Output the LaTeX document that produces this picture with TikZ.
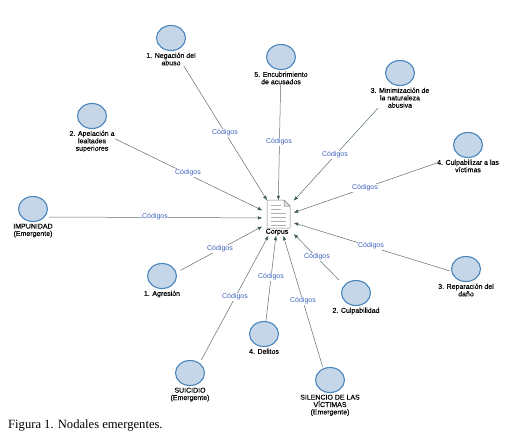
\documentclass[tikz,border=0pt]{standalone}
\usepackage{fontspec}
\setmainfont[FakeBold=0.15]{Liberation Sans}
\newfontfamily\capfont{Liberation Serif}
\newfontfamily\codfont{Liberation Sans}
\usepackage{xcolor}
\usetikzlibrary{arrows.meta,positioning,fit,shapes.geometric}
\definecolor{nodefill}{HTML}{C5D6E8}
\definecolor{nodeline}{HTML}{4A85BC}
\definecolor{linkline}{HTML}{5C6F6C}
\definecolor{linktip}{HTML}{3F5C58}
\definecolor{codblue}{HTML}{3F62BE}

\begin{document}
\begin{tikzpicture}[
  x=1pt, y=-1pt,
  nodal/.style={draw=nodeline, fill=nodefill, ellipse, line width=1.1pt, minimum width=29pt, minimum height=25pt, inner sep=0pt},
  lbl/.style={align=center, inner sep=0pt, font=\fontsize{7}{7.4}\selectfont},
  group/.style={inner sep=0pt},
  hub/.style={minimum width=31pt, minimum height=35pt, inner sep=0pt},
  cod/.style={fill=white, inner sep=0.6pt, text=codblue, font=\codfont\fontsize{7}{8}\selectfont},
  arr/.style={-{Latex[length=4.5pt,width=3.6pt,color=linktip]}, line width=0.5pt, draw=linkline},
  doc/.style={draw=black!50, fill=white, line width=0.5pt, line join=round}
]
\useasboundingbox (0,0) rectangle (517,447);

% nodales
\node[nodal] (neg) at (171,38) {};
\node[lbl,below=1.5pt of neg] (negl) {1. Negación del\\abuso};
\node[group,fit=(neg)(negl)] (negb) {};
\node[nodal] (apel) at (92,116) {};
\node[lbl,below=1.5pt of apel] (apell) {2. Apelación a\\lealtades\\superiores};
\node[group,fit=(apel)(apell)] (apelb) {};
\node[nodal] (imp) at (33,209) {};
\node[lbl,below=1.5pt of imp] (impl) {IMPUNIDAD\\(Emergente)};
\coordinate (imps) at (49,217);
\node[nodal] (enc) at (281,57) {};
\node[lbl,below=1.5pt of enc] (encl) {5. Encubrimiento\\de acusados};
\node[group,fit=(enc)(encl)] (encb) {};
\node[nodal] (mini) at (400,73) {};
\node[lbl,below=1.5pt of mini] (minil) {3. Minimización de\\la naturaleza\\abusiva};
\node[group,fit=(mini)(minil)] (minib) {};
\node[nodal] (culz) at (468,145) {};
\node[lbl,below=1.5pt of culz] (culzl) {4. Culpabilizar a las\\víctimas};
\node[group,fit=(culz)(culzl)] (culzb) {};
\node[nodal] (rep) at (466,269) {};
\node[lbl,below=1.5pt of rep] (repl) {3. Reparación del\\daño};
\coordinate (reps) at (450,271);
\node[nodal] (culp) at (356,293) {};
\node[lbl,below=1.5pt of culp] (culpl) {2. Culpabilidad};
\node[group,fit=(culp)(culpl)] (culpb) {};
\node[nodal] (sil) at (330,380) {};
\node[lbl,below=1.5pt of sil] (sill) {SILENCIO DE LAS\\VÍCTIMAS\\(Emergente)};
\node[group,fit=(sil)(sill)] (silb) {};
\node[nodal] (del) at (264,334) {};
\node[lbl,below=1.5pt of del] (dell) {4. Delitos};
\node[group,fit=(del)(dell)] (delb) {};
\node[nodal] (sui) at (190,373) {};
\node[lbl,below=1.5pt of sui] (suil) {SUICIDIO\\(Emergente)};
\node[group,fit=(sui)(suil)] (suib) {};
\node[nodal] (agr) at (162,276) {};
\node[lbl,below=1.5pt of agr] (agrl) {1. Agresión};
\node[group,fit=(agr)(agrl)] (agrb) {};

% corpus
\node[hub] (corpus) at (278,218) {};
\begin{scope}[shift={(corpus)}]
\draw[doc] (-11,-18) -- (6,-18) -- (12,-12) -- (12,10) -- (-11,10) -- cycle;
\draw[doc,fill=black!12] (6,-18) -- (6,-12) -- (12,-12) -- cycle;
\draw[black!30, line width=0.5pt] (-7,-13) -- (3,-13) (-7,-9) -- (3,-9) (-7,-5) -- (8,-5) (-7,-1) -- (8,-1) (-7,3) -- (8,3) (-7,7) -- (8,7);
\end{scope}
\node[lbl] (corpusl) at (277,232) {Corpus};

% conexiones
\draw[arr] (negb) -- (corpus);
\draw[arr] (apelb) -- (corpus);
\draw[arr] (imps) -- (corpus);
\draw[arr] (encb) -- (corpus);
\draw[arr] (minib) -- (corpus);
\draw[arr] (culzb) -- (corpus);
\draw[arr] (reps) -- (corpus);
\draw[arr] (culpb) -- (corpus);
\draw[arr] (silb) -- (corpus);
\draw[arr] (delb) -- (corpus);
\draw[arr] (suib) -- (corpus);
\draw[arr] (agrb) -- (corpus);

% etiquetas
\node[cod] (codneg) at (225,133) {Códigos};
\node[cod] (codapel) at (188,173) {Códigos};
\node[cod] (codimp) at (155,217) {Códigos};
\node[cod] (codenc) at (279,142) {Códigos};
\node[cod] (codmini) at (335,155) {Códigos};
\node[cod] (codculz) at (365,188) {Códigos};
\node[cod] (codrep) at (371,246) {Códigos};
\node[cod] (codculp) at (317,257) {Códigos};
\node[cod] (codsil) at (303,301) {Códigos};
\node[cod] (coddel) at (271,277) {Códigos};
\node[cod] (codsui) at (235,297) {Códigos};
\node[cod] (codagr) at (220,249) {Códigos};

\node[inner sep=0pt, anchor=west, font=\capfont\fontsize{12.6}{14}\selectfont] (caption) at (8,425) {Figura 1. Nodales emergentes.};
\end{tikzpicture}
\end{document}
